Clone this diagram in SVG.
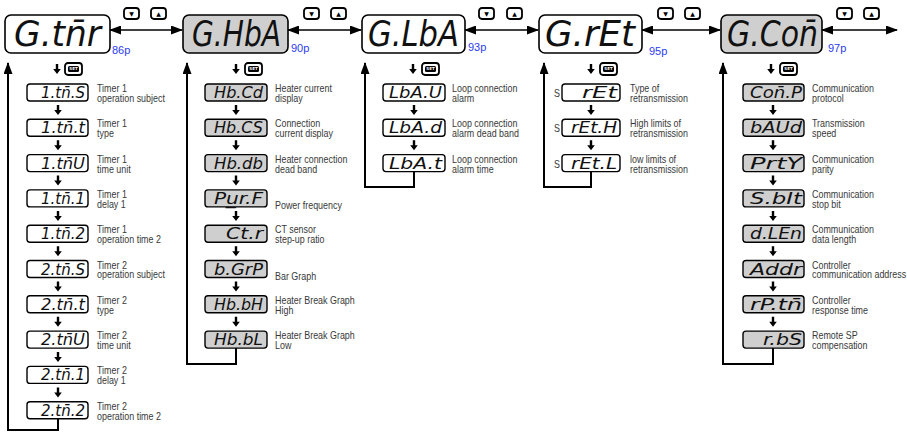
<svg xmlns="http://www.w3.org/2000/svg" xmlns:xlink="http://www.w3.org/1999/xlink" width="907" height="433" viewBox="0 0 907 433">
<style>
.mb{stroke:#000;stroke-width:1.6}
.w{fill:#fff}
.g{fill:#cfcfcf}
.sb{stroke:#000;stroke-width:1.4}
.seg{font-family:"DejaVu Sans Condensed","DejaVu Sans",sans-serif;font-style:oblique;fill:#111;text-anchor:end}
.ms{font-size:36px}
.ss{font-size:16px}
.d{font-family:"Liberation Sans",sans-serif;font-size:10.5px;fill:#383838}
.pg{font-family:"Liberation Sans",sans-serif;font-size:11px;fill:#2b3cf0}
.ln{fill:none;stroke:#000;stroke-width:2}
.ha{fill:none;stroke:#000;stroke-width:1.5}
.btn{fill:#fff;stroke:#000;stroke-width:1.8}
.bt{font-family:"DejaVu Sans",sans-serif;font-size:6px;fill:#000;text-anchor:middle}
.st{font-family:"DejaVu Sans",sans-serif;font-size:4px;font-weight:bold;fill:#fff;text-anchor:middle}
</style>
<defs>
<marker id="ah" viewBox="0 0 12 9" refX="11" refY="4.5" markerWidth="12" markerHeight="9" markerUnits="userSpaceOnUse" orient="auto-start-reverse"><path d="M0,0 L12,4.5 L0,9 z" fill="#000"/></marker>
<path id="da" d="M-1.2,0 h2.4 v5 h2.6 l-3.8,5 l-3.8,-5 h2.6 z" fill="#000"/>
<g id="up"><rect x="0" y="0" width="15" height="11" rx="3" class="btn"/><text x="7.5" y="8" class="bt">▼</text></g>
<g id="dn"><rect x="0" y="0" width="15" height="11" rx="3" class="btn"/><text x="7.5" y="8" class="bt">▲</text></g>
<g id="set"><rect x="0" y="0" width="17" height="12" rx="3" class="btn" stroke-width="1.5"/><rect x="3" y="3" width="11" height="6" rx="1.5" fill="#000"/><text x="8.5" y="7.4" class="st">SET</text></g>
</defs>

<g id="connectors">
<path class="ha" d="M110,30 H182" marker-start="url(#ah)" marker-end="url(#ah)"/>
<path class="ha" d="M288,30 H361" marker-start="url(#ah)" marker-end="url(#ah)"/>
<path class="ha" d="M465,30 H538" marker-start="url(#ah)" marker-end="url(#ah)"/>
<path class="ha" d="M642,30 H720" marker-start="url(#ah)" marker-end="url(#ah)"/>
<path class="ha" d="M822,30 H897" marker-start="url(#ah)" marker-end="url(#ah)"/>
<use xlink:href="#up" x="124" y="8"/><use xlink:href="#dn" x="151" y="8"/>
<use xlink:href="#up" x="304" y="8"/><use xlink:href="#dn" x="331" y="8"/>
<use xlink:href="#up" x="479" y="8"/><use xlink:href="#dn" x="507" y="8"/>
<use xlink:href="#up" x="658" y="8"/><use xlink:href="#dn" x="685" y="8"/>
<use xlink:href="#up" x="837" y="8"/><use xlink:href="#dn" x="864" y="8"/>

<use xlink:href="#da" x="57" y="64"/><use xlink:href="#set" x="65" y="63"/>
<use xlink:href="#da" x="236" y="64"/><use xlink:href="#set" x="245" y="63"/>
<use xlink:href="#da" x="413" y="64"/><use xlink:href="#set" x="422" y="63"/>
<use xlink:href="#da" x="591" y="64"/><use xlink:href="#set" x="600" y="63"/>
<use xlink:href="#da" x="771" y="64"/><use xlink:href="#set" x="780" y="63"/>

<path class="ln" d="M58,419 V430 H8 V63" marker-end="url(#ah)"/>
<path class="ln" d="M236,348 V364 H187 V63" marker-end="url(#ah)"/>
<path class="ln" d="M414,171 V187 H365 V63" marker-end="url(#ah)"/>
<path class="ln" d="M591,171 V187 H544 V63" marker-end="url(#ah)"/>
<path class="ln" d="M773,348 V364 H723 V63" marker-end="url(#ah)"/>

<use xlink:href="#da" x="58" y="105"/><use xlink:href="#da" x="58" y="140.3"/><use xlink:href="#da" x="58" y="175.6"/><use xlink:href="#da" x="58" y="210.9"/><use xlink:href="#da" x="58" y="246.2"/><use xlink:href="#da" x="58" y="281.5"/><use xlink:href="#da" x="58" y="316.8"/><use xlink:href="#da" x="58" y="352.1"/><use xlink:href="#da" x="58" y="387.4"/>
<use xlink:href="#da" x="236" y="105"/><use xlink:href="#da" x="236" y="140.3"/><use xlink:href="#da" x="236" y="175.6"/><use xlink:href="#da" x="236" y="210.9"/><use xlink:href="#da" x="236" y="246.2"/><use xlink:href="#da" x="236" y="281.5"/><use xlink:href="#da" x="236" y="316.8"/>
<use xlink:href="#da" x="414" y="105"/><use xlink:href="#da" x="414" y="140.3"/>
<use xlink:href="#da" x="591" y="105"/><use xlink:href="#da" x="591" y="140.3"/>
<use xlink:href="#da" x="773" y="105"/><use xlink:href="#da" x="773" y="140.3"/><use xlink:href="#da" x="773" y="175.6"/><use xlink:href="#da" x="773" y="210.9"/><use xlink:href="#da" x="773" y="246.2"/><use xlink:href="#da" x="773" y="281.5"/><use xlink:href="#da" x="773" y="316.8"/>
</g>

<g id="n-gtmr"><rect x="5" y="15" width="105" height="38" rx="6" class="mb w"/><text x="101" y="46" class="seg ms" textLength="87" lengthAdjust="spacingAndGlyphs">G.tn̄r</text><text x="112" y="54" class="pg">86p</text></g>
<g id="n-ghba"><rect x="183" y="15" width="105" height="38" rx="6" class="mb g"/><text x="281" y="46" class="seg ms" textLength="89" lengthAdjust="spacingAndGlyphs">G.HbA</text><text x="291" y="52" class="pg">90p</text></g>
<g id="n-glba"><rect x="362" y="15" width="103" height="38" rx="6" class="mb w"/><text x="459" y="46" class="seg ms" textLength="91" lengthAdjust="spacingAndGlyphs">G.LbA</text><text x="468" y="51" class="pg">93p</text></g>
<g id="n-gret"><rect x="539" y="15" width="103" height="38" rx="6" class="mb w"/><text x="635" y="46" class="seg ms" textLength="90" lengthAdjust="spacingAndGlyphs">G.rEt</text><text x="649" y="55" class="pg">95p</text></g>
<g id="n-gcon"><rect x="721" y="15" width="101" height="38" rx="6" class="mb g"/><text x="818" y="46" class="seg ms" textLength="91" lengthAdjust="spacingAndGlyphs">G.Con̄</text><text x="828" y="52" class="pg">97p</text></g>

<g id="c1-0"><rect x="27" y="84" width="61" height="17" rx="3" class="sb w"/><text x="85" y="98" class="seg ss" textLength="44" lengthAdjust="spacingAndGlyphs">1.tn̄.S</text><text class="d" transform="translate(97 92) scale(.85 1)"><tspan x="0" y="0">Timer 1</tspan><tspan x="0" y="10">operation subject</tspan></text></g>
<g id="c1-1"><rect x="27" y="119.3" width="61" height="17" rx="3" class="sb w"/><text x="85" y="133.3" class="seg ss" textLength="44" lengthAdjust="spacingAndGlyphs">1.tn̄.t</text><text class="d" transform="translate(97 127.3) scale(.85 1)"><tspan x="0" y="0">Timer 1</tspan><tspan x="0" y="10">type</tspan></text></g>
<g id="c1-2"><rect x="27" y="154.6" width="61" height="17" rx="3" class="sb w"/><text x="85" y="168.6" class="seg ss" textLength="44" lengthAdjust="spacingAndGlyphs">1.tn̄U</text><text class="d" transform="translate(97 162.6) scale(.85 1)"><tspan x="0" y="0">Timer 1</tspan><tspan x="0" y="10">time unit</tspan></text></g>
<g id="c1-3"><rect x="27" y="189.9" width="61" height="17" rx="3" class="sb w"/><text x="85" y="203.9" class="seg ss" textLength="44" lengthAdjust="spacingAndGlyphs">1.tn̄.1</text><text class="d" transform="translate(97 197.9) scale(.85 1)"><tspan x="0" y="0">Timer 1</tspan><tspan x="0" y="10">delay 1</tspan></text></g>
<g id="c1-4"><rect x="27" y="225.2" width="61" height="17" rx="3" class="sb w"/><text x="85" y="239.2" class="seg ss" textLength="44" lengthAdjust="spacingAndGlyphs">1.tn̄.2</text><text class="d" transform="translate(97 233.2) scale(.85 1)"><tspan x="0" y="0">Timer 1</tspan><tspan x="0" y="10">operation time 2</tspan></text></g>
<g id="c1-5"><rect x="27" y="260.5" width="61" height="17" rx="3" class="sb w"/><text x="85" y="274.5" class="seg ss" textLength="44" lengthAdjust="spacingAndGlyphs">2.tn̄.S</text><text class="d" transform="translate(97 268.5) scale(.85 1)"><tspan x="0" y="0">Timer 2</tspan><tspan x="0" y="10">operation subject</tspan></text></g>
<g id="c1-6"><rect x="27" y="295.8" width="61" height="17" rx="3" class="sb w"/><text x="85" y="309.8" class="seg ss" textLength="44" lengthAdjust="spacingAndGlyphs">2.tn̄.t</text><text class="d" transform="translate(97 303.8) scale(.85 1)"><tspan x="0" y="0">Timer 2</tspan><tspan x="0" y="10">type</tspan></text></g>
<g id="c1-7"><rect x="27" y="331.1" width="61" height="17" rx="3" class="sb w"/><text x="85" y="345.1" class="seg ss" textLength="44" lengthAdjust="spacingAndGlyphs">2.tn̄U</text><text class="d" transform="translate(97 339.1) scale(.85 1)"><tspan x="0" y="0">Timer 2</tspan><tspan x="0" y="10">time unit</tspan></text></g>
<g id="c1-8"><rect x="27" y="366.4" width="61" height="17" rx="3" class="sb w"/><text x="85" y="380.4" class="seg ss" textLength="44" lengthAdjust="spacingAndGlyphs">2.tn̄.1</text><text class="d" transform="translate(97 374.4) scale(.85 1)"><tspan x="0" y="0">Timer 2</tspan><tspan x="0" y="10">delay 1</tspan></text></g>
<g id="c1-9"><rect x="27" y="401.7" width="61" height="17" rx="3" class="sb w"/><text x="85" y="415.7" class="seg ss" textLength="44" lengthAdjust="spacingAndGlyphs">2.tn̄.2</text><text class="d" transform="translate(97 409.7) scale(.85 1)"><tspan x="0" y="0">Timer 2</tspan><tspan x="0" y="10">operation time 2</tspan></text></g>

<g id="c2-0"><rect x="205" y="84" width="62" height="17" rx="3" class="sb g"/><text x="263" y="98" class="seg ss" textLength="49" lengthAdjust="spacingAndGlyphs">Hb.Cd</text><text class="d" transform="translate(275 92) scale(.85 1)"><tspan x="0" y="0">Heater current</tspan><tspan x="0" y="10">display</tspan></text></g>
<g id="c2-1"><rect x="205" y="119.3" width="62" height="17" rx="3" class="sb g"/><text x="263" y="133.3" class="seg ss" textLength="49" lengthAdjust="spacingAndGlyphs">Hb.CS</text><text class="d" transform="translate(275 127.3) scale(.85 1)"><tspan x="0" y="0">Connection</tspan><tspan x="0" y="10">current display</tspan></text></g>
<g id="c2-2"><rect x="205" y="154.6" width="62" height="17" rx="3" class="sb g"/><text x="263" y="168.6" class="seg ss" textLength="49" lengthAdjust="spacingAndGlyphs">Hb.db</text><text class="d" transform="translate(275 162.6) scale(.85 1)"><tspan x="0" y="0">Heater connection</tspan><tspan x="0" y="10">dead band</tspan></text></g>
<g id="c2-3"><rect x="205" y="189.9" width="62" height="17" rx="3" class="sb g"/><text x="263" y="203.9" class="seg ss" textLength="49" lengthAdjust="spacingAndGlyphs">Pu̲r.F</text><text class="d" transform="translate(275 209) scale(.85 1)">Power frequency</text></g>
<g id="c2-4"><rect x="205" y="225.2" width="62" height="17" rx="3" class="sb g"/><text x="263" y="239.2" class="seg ss" textLength="37" lengthAdjust="spacingAndGlyphs">Ct.r</text><text class="d" transform="translate(275 233.2) scale(.85 1)"><tspan x="0" y="0">CT sensor</tspan><tspan x="0" y="10">step-up ratio</tspan></text></g>
<g id="c2-5"><rect x="205" y="260.5" width="62" height="17" rx="3" class="sb g"/><text x="263" y="274.5" class="seg ss" textLength="49" lengthAdjust="spacingAndGlyphs">b.GrP</text><text class="d" transform="translate(275 280) scale(.85 1)">Bar Graph</text></g>
<g id="c2-6"><rect x="205" y="295.8" width="62" height="17" rx="3" class="sb g"/><text x="263" y="309.8" class="seg ss" textLength="49" lengthAdjust="spacingAndGlyphs">Hb.bH</text><text class="d" transform="translate(275 303.8) scale(.85 1)"><tspan x="0" y="0">Heater Break Graph</tspan><tspan x="0" y="10">High</tspan></text></g>
<g id="c2-7"><rect x="205" y="331.1" width="62" height="17" rx="3" class="sb g"/><text x="263" y="345.1" class="seg ss" textLength="49" lengthAdjust="spacingAndGlyphs">Hb.bL</text><text class="d" transform="translate(275 339.1) scale(.85 1)"><tspan x="0" y="0">Heater Break Graph</tspan><tspan x="0" y="10">Low</tspan></text></g>

<g id="c3-0"><rect x="383" y="84" width="62" height="17" rx="3" class="sb w"/><text x="442" y="98" class="seg ss" textLength="53" lengthAdjust="spacingAndGlyphs">LbA.U</text><text class="d" transform="translate(452 92) scale(.85 1)"><tspan x="0" y="0">Loop connection</tspan><tspan x="0" y="10">alarm</tspan></text></g>
<g id="c3-1"><rect x="383" y="119.3" width="62" height="17" rx="3" class="sb w"/><text x="442" y="133.3" class="seg ss" textLength="53" lengthAdjust="spacingAndGlyphs">LbA.d</text><text class="d" transform="translate(452 127.3) scale(.85 1)"><tspan x="0" y="0">Loop connection</tspan><tspan x="0" y="10">alarm dead band</tspan></text></g>
<g id="c3-2"><rect x="383" y="154.6" width="62" height="17" rx="3" class="sb w"/><text x="442" y="168.6" class="seg ss" textLength="53" lengthAdjust="spacingAndGlyphs">LbA.t</text><text class="d" transform="translate(452 162.6) scale(.85 1)"><tspan x="0" y="0">Loop connection</tspan><tspan x="0" y="10">alarm time</tspan></text></g>

<g id="c4-0"><text class="d" transform="translate(554 97) scale(.85 1)">S</text><rect x="562" y="84" width="58" height="17" rx="3" class="sb w"/><text x="617" y="98" class="seg ss" textLength="35" lengthAdjust="spacingAndGlyphs">rEt</text><text class="d" transform="translate(630 92) scale(.85 1)"><tspan x="0" y="0">Type of</tspan><tspan x="0" y="10">retransmission</tspan></text></g>
<g id="c4-1"><text class="d" transform="translate(554 132.3) scale(.85 1)">S</text><rect x="562" y="119.3" width="58" height="17" rx="3" class="sb w"/><text x="617" y="133.3" class="seg ss" textLength="46" lengthAdjust="spacingAndGlyphs">rEt.H</text><text class="d" transform="translate(630 127.3) scale(.85 1)"><tspan x="0" y="0">High limits of</tspan><tspan x="0" y="10">retransmission</tspan></text></g>
<g id="c4-2"><text class="d" transform="translate(554 167.6) scale(.85 1)">S</text><rect x="562" y="154.6" width="58" height="17" rx="3" class="sb w"/><text x="617" y="168.6" class="seg ss" textLength="46" lengthAdjust="spacingAndGlyphs">rEt.L</text><text class="d" transform="translate(630 162.6) scale(.85 1)"><tspan x="0" y="0">low limits of</tspan><tspan x="0" y="10">retransmission</tspan></text></g>

<g id="c5-0"><rect x="743" y="84" width="61" height="17" rx="3" class="sb g"/><text x="802" y="98" class="seg ss" textLength="52" lengthAdjust="spacingAndGlyphs">Con̄.P</text><text class="d" transform="translate(812 92) scale(.85 1)"><tspan x="0" y="0">Communication</tspan><tspan x="0" y="10">protocol</tspan></text></g>
<g id="c5-1"><rect x="743" y="119.3" width="61" height="17" rx="3" class="sb g"/><text x="802" y="133.3" class="seg ss" textLength="52" lengthAdjust="spacingAndGlyphs">bAUd</text><text class="d" transform="translate(812 127.3) scale(.85 1)"><tspan x="0" y="0">Transmission</tspan><tspan x="0" y="10">speed</tspan></text></g>
<g id="c5-2"><rect x="743" y="154.6" width="61" height="17" rx="3" class="sb g"/><text x="802" y="168.6" class="seg ss" textLength="52" lengthAdjust="spacingAndGlyphs">PrtY</text><text class="d" transform="translate(812 162.6) scale(.85 1)"><tspan x="0" y="0">Communication</tspan><tspan x="0" y="10">parity</tspan></text></g>
<g id="c5-3"><rect x="743" y="189.9" width="61" height="17" rx="3" class="sb g"/><text x="802" y="203.9" class="seg ss" textLength="52" lengthAdjust="spacingAndGlyphs">S.bIt</text><text class="d" transform="translate(812 197.9) scale(.85 1)"><tspan x="0" y="0">Communication</tspan><tspan x="0" y="10">stop bit</tspan></text></g>
<g id="c5-4"><rect x="743" y="225.2" width="61" height="17" rx="3" class="sb g"/><text x="802" y="239.2" class="seg ss" textLength="52" lengthAdjust="spacingAndGlyphs">d.LEn</text><text class="d" transform="translate(812 233.2) scale(.85 1)"><tspan x="0" y="0">Communication</tspan><tspan x="0" y="10">data length</tspan></text></g>
<g id="c5-5"><rect x="743" y="260.5" width="61" height="17" rx="3" class="sb g"/><text x="802" y="274.5" class="seg ss" textLength="52" lengthAdjust="spacingAndGlyphs">Addr</text><text class="d" transform="translate(812 268.5) scale(.85 1)"><tspan x="0" y="0">Controller</tspan><tspan x="0" y="10">communication address</tspan></text></g>
<g id="c5-6"><rect x="743" y="295.8" width="61" height="17" rx="3" class="sb g"/><text x="802" y="309.8" class="seg ss" textLength="52" lengthAdjust="spacingAndGlyphs">rP.tn̄</text><text class="d" transform="translate(812 303.8) scale(.85 1)"><tspan x="0" y="0">Controller</tspan><tspan x="0" y="10">response time</tspan></text></g>
<g id="c5-7"><rect x="743" y="331.1" width="61" height="17" rx="3" class="sb g"/><text x="802" y="345.1" class="seg ss" textLength="39" lengthAdjust="spacingAndGlyphs">r.bS</text><text class="d" transform="translate(812 339.1) scale(.85 1)"><tspan x="0" y="0">Remote SP</tspan><tspan x="0" y="10">compensation</tspan></text></g>
</svg>
